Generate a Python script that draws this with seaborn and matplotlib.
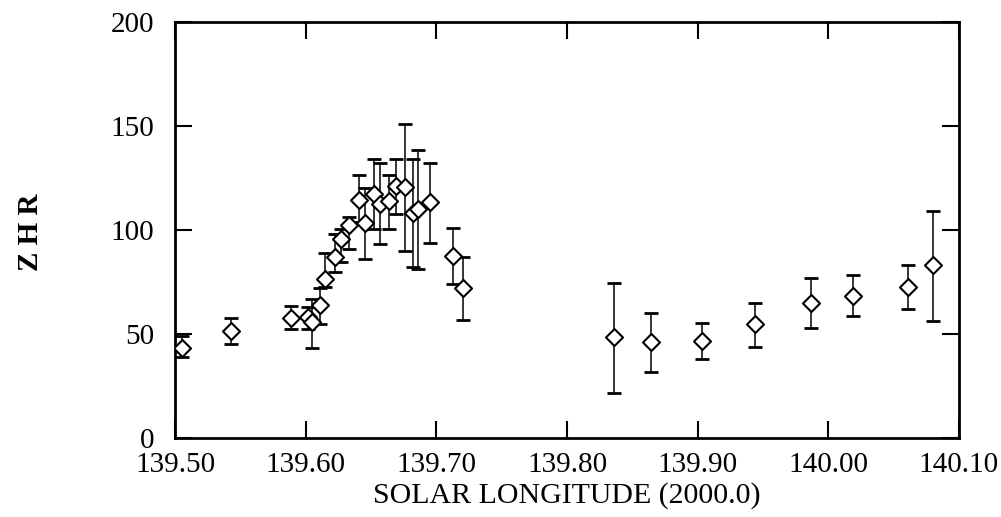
import numpy as np
import pandas as pd
import seaborn as sns
import matplotlib
matplotlib.use('Agg')
import matplotlib.pyplot as plt

# data
solar_long = [139.505, 139.543, 139.589, 139.602, 139.605, 139.611, 139.615, 139.622,
              139.627, 139.633, 139.641, 139.645, 139.652, 139.657, 139.664, 139.669,
              139.676, 139.682, 139.686, 139.695, 139.713, 139.720,
              139.836, 139.864, 139.903, 139.944, 139.987, 140.019, 140.061, 140.080]
zhr = [43.4, 51.7, 58.1, 58.4, 56.0, 64.0, 76.5, 87.0,
       96.0, 102.5, 114.7, 103.4, 117.5, 112.7, 113.9, 121.1,
       120.8, 108.3, 110.2, 113.6, 87.7, 72.2,
       48.5, 46.1, 46.9, 54.9, 65.0, 68.5, 72.7, 83.1]
err_low = [39.0, 45.3, 52.5, 52.5, 43.5, 55.0, 72.7, 80.0,
           85.0, 91.1, 104.0, 86.3, 100.7, 93.4, 100.7, 107.8,
           90.1, 82.6, 81.5, 94.1, 74.3, 57.0,
           22.0, 32.1, 38.2, 43.8, 53.3, 58.6, 62.3, 56.2]
err_high = [49.3, 58.1, 63.4, 63.0, 67.1, 72.5, 89.3, 98.0,
            100.7, 106.2, 126.4, 120.3, 134.2, 132.3, 126.4, 134.2,
            151.2, 134.2, 138.4, 132.3, 101.3, 87.4,
            74.8, 60.2, 55.7, 65.0, 77.0, 78.6, 83.1, 109.4]

xticks = [139.50, 139.60, 139.70, 139.80, 139.90, 140.00, 140.10]
yticks = [0, 50, 100, 150, 200]

df = pd.DataFrame({'sol': solar_long, 'zhr': zhr, 'lo': err_low, 'hi': err_high})

sns.set_theme(style='ticks')
plt.rcParams['font.family'] = ['Liberation Serif', 'DejaVu Serif']

fig = plt.figure(figsize=(10.01, 5.17), dpi=100)
ax = fig.add_axes([0.175, 0.152, 0.783, 0.805])

yerr = np.array([df.zhr - df.lo, df.hi - df.zhr])
ax.errorbar(df.sol, df.zhr, yerr=yerr, fmt='none', ecolor='black',
            elinewidth=1.1, capsize=5, capthick=2, zorder=2)
sns.scatterplot(data=df, x='sol', y='zhr', marker='D', s=75, facecolor='white',
                edgecolor='black', linewidth=1.5, ax=ax, zorder=3)

ax.set_xlim(139.50, 140.10)
ax.set_ylim(0, 200)
ax.set_xticks(xticks)
ax.set_xticklabels(['%.2f' % t for t in xticks])
ax.set_yticks(yticks)
ax.tick_params(direction='in', length=12, width=1.5, top=True, right=True,
               labelsize=21, colors='black')
ax.tick_params(axis='x', pad=10)
ax.tick_params(axis='y', pad=15)
for lbl in ax.get_yticklabels():
    lbl.set_verticalalignment('center_baseline')
for s in ax.spines.values():
    s.set_linewidth(2)
    s.set_color('black')

ax.set_xlabel('SOLAR LONGITUDE (2000.0)', fontsize=21.5, labelpad=3, color='black')
ax.set_ylabel('')
fig.text(0.03, 0.551, 'Z H R', rotation=90, fontsize=21, fontweight='bold',
         ha='center', va='center', color='black')

fig.savefig('out.png', dpi=100)
